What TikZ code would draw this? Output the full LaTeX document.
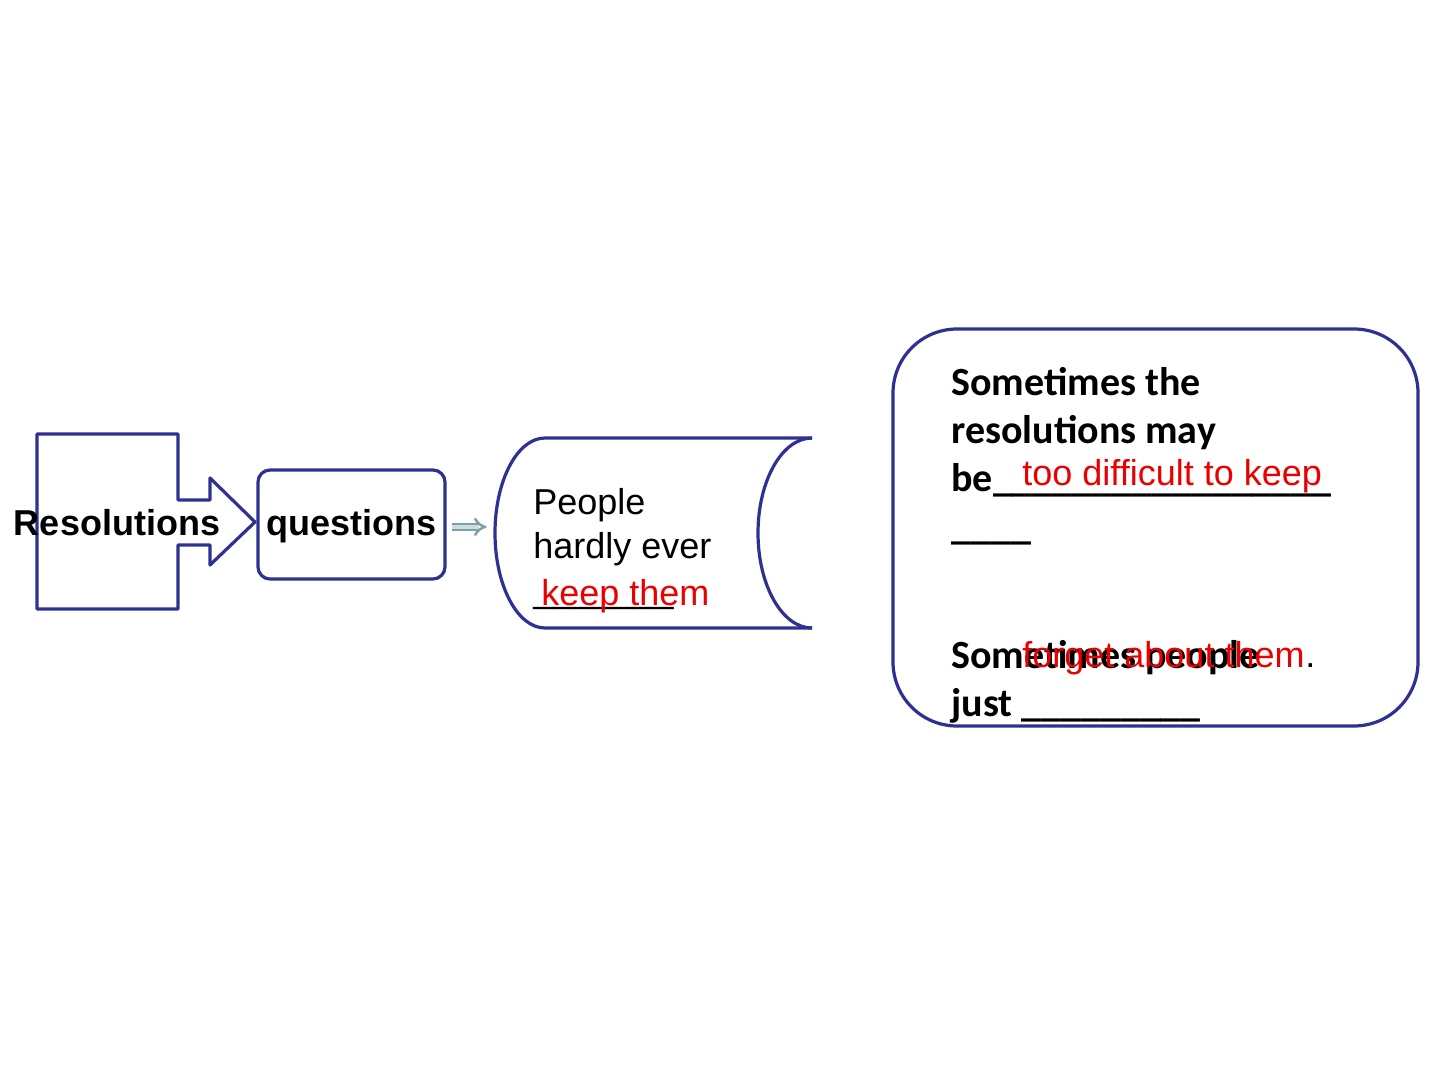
\documentclass[tikz,border=0pt]{standalone}
\usepackage{fontspec}
\setmainfont{Liberation Sans}
\newfontfamily\calibri{Carlito}
\usetikzlibrary{arrows.meta,positioning}
\definecolor{boxblue}{RGB}{46,49,146}
\definecolor{linkgray}{RGB}{125,160,165}
\definecolor{linkfill}{RGB}{205,222,224}
\definecolor{answerred}{RGB}{235,0,0}

\begin{document}
\begin{tikzpicture}[x=0.5pt,y=-0.5pt]

  \tikzset{outline/.style = {draw=boxblue,line width=1.6pt,line join=round}}
  \tikzset{roundbox/.style = {outline,rounded corners=#1,inner sep=0pt}}
  \tikzset{link/.style = {draw=linkgray,double=linkfill,double distance=1.8pt,line width=1.2pt,-{Implies},shorten <=2.5pt,shorten >=4.5pt}}
  \tikzset{label/.style = {font=\fontsize{18}{22}\selectfont\bfseries}}
  \tikzset{plain/.style = {font=\fontsize{18}{22}\selectfont,align=left,inner sep=0pt,anchor=base west}}
  \tikzset{bold/.style = {font=\calibri\fontsize{20}{24}\selectfont\bfseries,align=left,inner sep=0pt,anchor=base west}}
  \tikzset{answer/.style = {plain,text=answerred}}

  \useasboundingbox (0,0) rectangle (1440,1080);

  % shapes
  \draw[outline] (37,434) -- (178,434) -- (178,500) -- (210,500) -- (210,478)
    -- (255,522) -- (210,565) -- (210,545) -- (178,545) -- (178,609)
    -- (37,609) -- cycle;
  \node[roundbox=6pt,minimum width=93.5pt,minimum height=54.5pt] (q) at (351.5,524.5) {};
  \node[inner sep=0pt,minimum width=158pt,minimum height=95pt] (ppl) at (654,533) {};
  \draw[outline] (812,438) -- (545,438) arc[start angle=270,end angle=90,x radius=50,y radius=95]
    -- (812,628);
  \draw[outline] (812,438) arc[start angle=270,end angle=90,x radius=54,y radius=95];
  \node[roundbox=32pt,minimum width=262.5pt,minimum height=198.5pt] (rb) at (1155.5,527.5) {};

  % connector
  \draw[link] ([yshift=-1.2pt]q.east) -- ([yshift=-1.2pt]q.east -| ppl.west);

  % texts (base = last line)
  \node[label,anchor=base] (res) at (117,535) {Resolutions};
  \node[label,anchor=base] (qt) at (q.center |- res.base) {questions};
  \node[plain] (hardly) at (533,602) {People\\hardly ever\\\_\_\_\_\_\_\_};
  \node[answer] (keep) at (541,605) {keep them};
  \node[bold] (may) at (951,539) {Sometimes the\\resolutions may\\be\_\_\_\_\_\_\_\_\_\_\_\_\_\_\_\_\_\\\_\_\_\_};
  \node[bold] (just) at (951,716) {Sometimes people\\just \_\_\_\_\_\_\_\_\_};
  \node[answer] (hard) at (1022,486) {too difficult to keep};
  \node[answer] (forget) at (1022,667) {forget about them};
  \node[plain] (dot) at (forget.base east) {.};
\end{tikzpicture}
\end{document}
